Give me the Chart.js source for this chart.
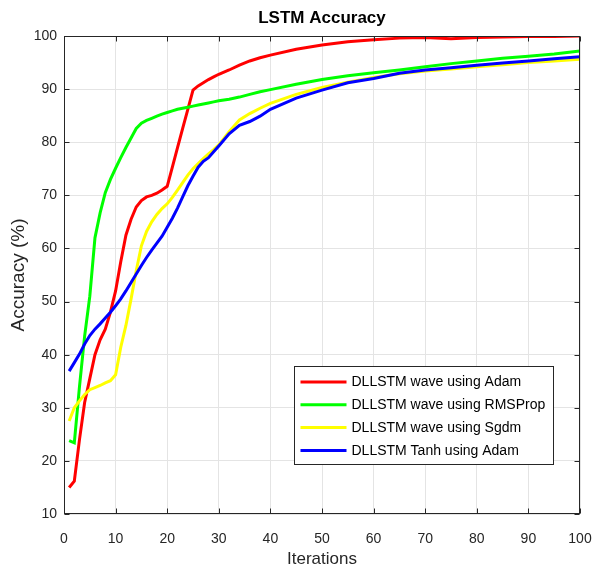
<!DOCTYPE html>
<html>
<head>
<meta charset="utf-8">
<script src="https://cdn.jsdelivr.net/npm/chart.js@4.4.1/dist/chart.umd.min.js"></script>
<style>
  html, body { margin: 0; padding: 0; background: #fff; }
  #wrap { width: 593px; height: 573px; }
</style>
</head>
<body>
<div id="wrap"><canvas id="c" width="593" height="573"></canvas></div>
<script>
// Training iterations at which accuracy was logged
const iterations = [1,2,3,4,5,6,7,8,9,10,11,12,13,14,15,16,17,18,19,20,
  21,22,23,24,25,26,27,28,29,30,32,34,36,38,40,45,50,55,60,65,70,75,80,85,90,95,100];

// Accuracy (%) per run
const waveAdam = [15.0,16.2,24.0,31.0,35.5,40.0,42.8,44.8,48.0,52.0,57.5,62.5,65.5,67.8,69.0,69.7,70.0,70.4,71.0,71.7,
  75.3,79.0,82.6,86.2,89.8,90.6,91.2,91.8,92.3,92.8,93.6,94.5,95.3,95.9,96.4,97.5,98.3,98.9,99.3,99.6,99.7,99.5,99.7,99.8,99.9,99.9,100];
const waveRMSProp = [23.8,23.4,34.0,43.5,51.0,62.0,66.7,70.5,73.0,75.1,77.1,79.0,80.8,82.6,83.6,84.1,84.5,84.9,85.3,85.6,
  85.9,86.2,86.4,86.6,86.8,87.0,87.2,87.4,87.6,87.8,88.1,88.5,89.0,89.5,89.9,90.9,91.8,92.5,93.1,93.6,94.2,94.8,95.3,95.8,96.2,96.6,97.2];
const waveSgdm = [27.5,30.0,31.3,32.5,33.4,33.8,34.2,34.7,35.1,36.2,41.4,45.5,50.5,55.8,60.5,63.2,65.0,66.4,67.5,68.4,
  69.6,71.0,72.4,73.8,75.0,76.0,76.9,77.8,78.6,79.5,82.0,84.2,85.4,86.4,87.3,89.0,90.3,91.3,92.2,92.9,93.4,93.8,94.2,94.6,95.0,95.3,95.6];
const tanhAdam = [36.9,38.5,40.1,42.0,43.6,44.8,45.8,46.9,48.0,49.2,50.5,52.0,53.6,55.2,56.8,58.3,59.7,61.0,62.3,64.0,
  65.7,67.6,69.7,71.8,73.6,75.3,76.4,77.1,78.2,79.3,81.6,83.2,83.9,84.9,86.2,88.3,89.8,91.2,92.0,93.0,93.6,94.0,94.5,94.9,95.3,95.7,96.1];

const seriesLabels = ['DLLSTM wave using Adam', 'DLLSTM wave using RMSProp', 'DLLSTM wave using Sgdm', 'DLLSTM Tanh using Adam'];
const seriesColors = ['#ff0000', '#00ff00', '#ffff00', '#0000ff'];
const seriesValues = [waveAdam, waveRMSProp, waveSgdm, tanhAdam];

const FONT = '"Liberation Sans", Arial, Helvetica, sans-serif';
const AXIS_COLOR = '#262626';

// Boxed axes with inward tick marks, the title and the in-plot legend
const framePlugin = {
  id: 'frame',
  afterDatasetsDraw(chart) {
    const { ctx, chartArea: a, scales } = chart;
    const L = Math.round(a.left) + 0.5, R = Math.round(a.right) - 0.5;
    const T = Math.round(a.top) + 0.5, B = Math.round(a.bottom) - 0.5;
    const tick = 5;
    ctx.save();
    ctx.strokeStyle = AXIS_COLOR;
    ctx.lineWidth = 1;
    ctx.strokeRect(L, T, R - L, B - T);
    ctx.beginPath();
    scales.x.ticks.forEach(t => {
      const px = Math.round(scales.x.getPixelForValue(t.value)) + 0.5;
      ctx.moveTo(px, B); ctx.lineTo(px, B - tick);
      ctx.moveTo(px, T); ctx.lineTo(px, T + tick);
    });
    scales.y.ticks.forEach(t => {
      const py = Math.round(scales.y.getPixelForValue(t.value)) + 0.5;
      ctx.moveTo(L, py); ctx.lineTo(L + tick, py);
      ctx.moveTo(R, py); ctx.lineTo(R - tick, py);
    });
    ctx.stroke();

    // legend box, lower right inside the plot
    const bw = 259, bh = 98;
    const bx = Math.round(a.right - 27 - bw) + 0.5;
    const by = Math.round(a.bottom - 50 - bh) + 0.5;
    ctx.fillStyle = '#ffffff';
    ctx.fillRect(bx, by, bw, bh);
    ctx.strokeStyle = AXIS_COLOR;
    ctx.strokeRect(bx, by, bw, bh);
    ctx.font = '14px ' + FONT;
    ctx.textBaseline = 'middle';
    ctx.textAlign = 'left';
    seriesLabels.forEach((label, i) => {
      const ry = by + 15.5 + i * 22.8;
      ctx.strokeStyle = seriesColors[i];
      ctx.lineWidth = 3;
      ctx.beginPath();
      ctx.moveTo(bx + 6, ry); ctx.lineTo(bx + 52, ry);
      ctx.stroke();
      ctx.fillStyle = '#000000';
      ctx.fillText(label, bx + 57, ry + 0.5);
    });

    // chart title
    ctx.fillStyle = '#000000';
    ctx.font = 'bold 17px ' + FONT;
    ctx.textAlign = 'center';
    ctx.textBaseline = 'middle';
    ctx.fillText('LSTM Accuracy', (a.left + a.right) / 2, 18);
    ctx.restore();
  }
};

const datasets = seriesValues.map((vals, i) => ({
  label: seriesLabels[i],
  data: iterations.map((it, k) => ({ x: it, y: vals[k] })),
  borderColor: seriesColors[i],
  backgroundColor: seriesColors[i],
  borderWidth: 3,
  pointRadius: 0,
  tension: 0,
  fill: false,
  order: seriesValues.length - i
}));

new Chart(document.getElementById('c'), {
  type: 'line',
  data: { datasets },
  options: {
    responsive: false,
    animation: false,
    layout: { padding: { top: 36, right: 13, bottom: 0, left: 0 } },
    plugins: { legend: { display: false }, tooltip: { enabled: false }, title: { display: false } },
    scales: {
      x: {
        type: 'linear',
        min: 0, max: 100,
        ticks: { stepSize: 10, color: AXIS_COLOR, font: { family: FONT, size: 14 }, padding: 17, maxRotation: 0 },
        grid: { color: '#e4e4e4', drawTicks: false },
        border: { display: false },
        title: { display: true, text: 'Iterations', color: AXIS_COLOR, font: { family: FONT, size: 17 }, padding: { top: 0, bottom: 3 } },
        afterFit(scale) { scale.height = 59; scale.paddingLeft = 0; scale.paddingRight = 0; }
      },
      y: {
        type: 'linear',
        min: 10, max: 100,
        ticks: { stepSize: 10, color: AXIS_COLOR, font: { family: FONT, size: 14 }, padding: 7 },
        grid: { color: '#e4e4e4', drawTicks: false },
        border: { display: false },
        title: { display: true, text: 'Accuracy (%)', color: AXIS_COLOR, font: { family: FONT, size: 19 }, padding: { top: 7, bottom: 0 } },
        afterFit(scale) { scale.width = 64; scale.paddingTop = 0; scale.paddingBottom = 0; }
      }
    }
  },
  plugins: [framePlugin]
});
</script>
</body>
</html>
